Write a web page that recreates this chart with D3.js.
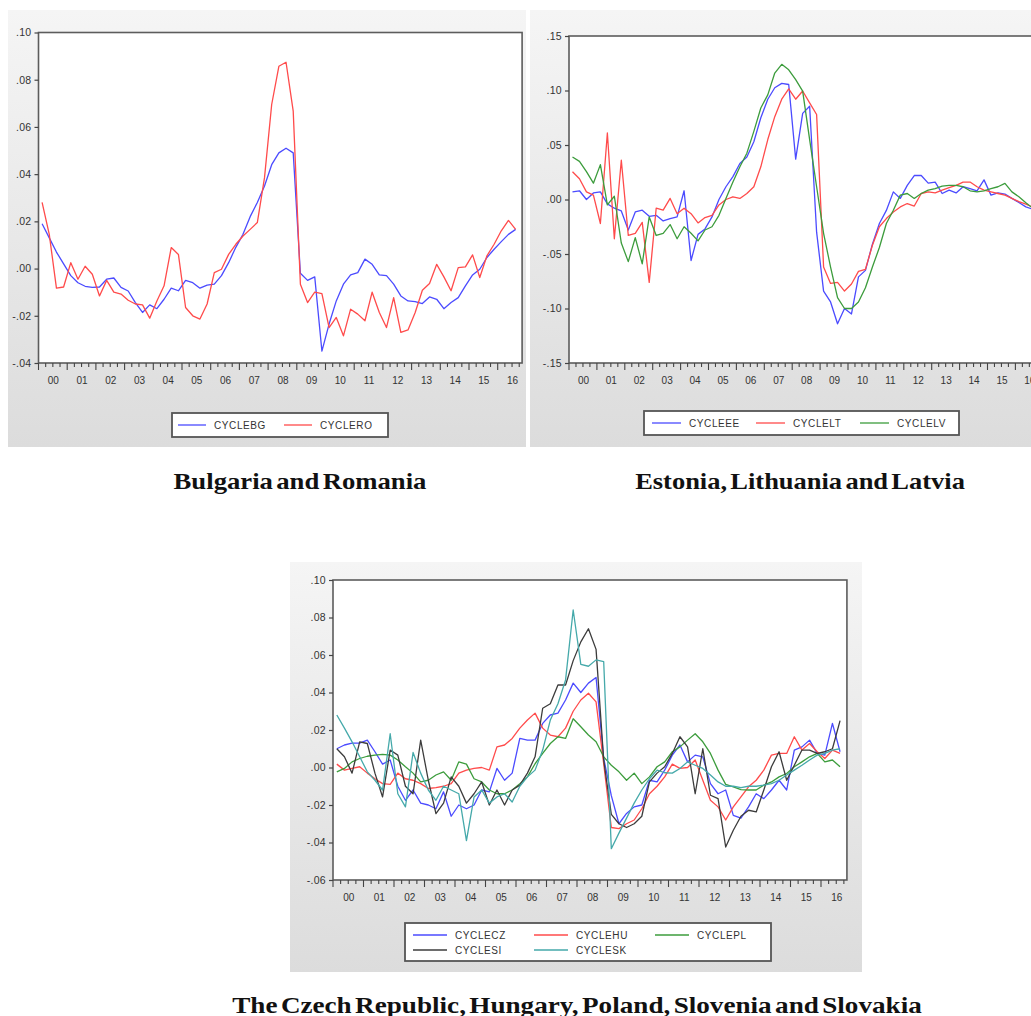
<!DOCTYPE html>
<html>
<head>
<meta charset="utf-8">
<script src="https://cdn.jsdelivr.net/npm/d3@7"></script>
<style>
  html, body { margin: 0; padding: 0; background: #ffffff; }
  svg { display: block; }
  .tick-label { font-family: "Liberation Sans", Arial, sans-serif; font-size: 10px; fill: #333; }
  .ytick-label { font-family: "Liberation Sans", Arial, sans-serif; font-size: 10.5px; fill: #333; letter-spacing: 0.3px; }
  .legend-label { font-family: "Liberation Sans", Arial, sans-serif; font-size: 10px; fill: #333; letter-spacing: 0.6px; }
  .title { font-family: "Liberation Serif", "Times New Roman", serif; font-weight: bold; font-size: 24px; fill: #111; word-spacing: -3px; }
</style>
</head>
<body>
<script>
// Year labels along the time axis (quarterly data, 2000Q1 - 2016Q3)
const yearLabels = ["00","01","02","03","04","05","06","07","08","09","10","11","12","13","14","15","16"];

// Bulgaria and Romania
const cycleBG = [
  0.019, 0.013, 0.007, 0.002,
  -0.003, -0.006, -0.0075, -0.008,
  -0.0078, -0.0045, -0.004, -0.008,
  -0.0095, -0.0144, -0.0186, -0.0154,
  -0.017, -0.013, -0.0083, -0.0094,
  -0.005, -0.006, -0.0083, -0.007,
  -0.0066, -0.003, 0.0025, 0.009,
  0.0145, 0.022, 0.028, 0.035,
  0.044, 0.049, 0.051, 0.049,
  -0.002, -0.005, -0.0035, -0.035,
  -0.0235, -0.0137, -0.0066, -0.0027,
  -0.0017, 0.004, 0.0018, -0.0027,
  -0.003, -0.0066, -0.0116, -0.0137,
  -0.014, -0.0148, -0.012, -0.013,
  -0.017, -0.0144, -0.0123, -0.0073,
  -0.0027, -0.0003, 0.0047, 0.0082,
  0.0114, 0.0145, 0.0166
];
const cycleRO = [
  0.028, 0.0145, -0.0083, -0.0078,
  0.0025, -0.0045, 0.001, -0.0024,
  -0.0116, -0.005, -0.010, -0.0108,
  -0.0134, -0.015, -0.0154, -0.021,
  -0.0137, -0.0073, 0.0089, 0.006,
  -0.0165, -0.020, -0.0214, -0.015,
  -0.0017, -0.0003, 0.006, 0.0103,
  0.0138, 0.0166, 0.0195, 0.0385,
  0.0695, 0.0857, 0.0874, 0.0667,
  -0.0066, -0.0144, -0.010, -0.0106,
  -0.025, -0.0207, -0.0285, -0.0172,
  -0.0193, -0.0221, -0.010, -0.0186,
  -0.025, -0.0123, -0.027, -0.026,
  -0.0186, -0.0092, -0.0063, 0.0018,
  -0.0035, -0.0094, 0.0004, 0.0007,
  0.0058, -0.0038, 0.0054, 0.0103,
  0.016, 0.0204, 0.0166
];

// Estonia, Lithuania and Latvia
const cycleEE = [
  0.007, 0.008, 0.000, 0.006,
  0.007, -0.004, -0.008, -0.0105,
  -0.028, -0.0114, -0.0098, -0.0154,
  -0.0145, -0.0197, -0.0175, -0.016,
  0.008, -0.056, -0.032, -0.027,
  -0.016, 0.000, 0.0117, 0.021,
  0.033, 0.039, 0.053, 0.075,
  0.092, 0.1025, 0.1065, 0.1055,
  0.037, 0.079, 0.0855, -0.030,
  -0.084, -0.094, -0.114, -0.100,
  -0.105, -0.071, -0.065, -0.041,
  -0.022, -0.010, 0.007, 0.001,
  0.013, 0.022, 0.022, 0.015,
  0.016, 0.0055, 0.0086, 0.006,
  0.0117, 0.010, 0.008, 0.018,
  0.004, 0.006, 0.005, 0.001,
  -0.0028, -0.0068, -0.009
];
const cycleLT = [
  0.0255, 0.019, 0.007, 0.004,
  -0.022, 0.061, -0.036, 0.036,
  -0.033, -0.031, -0.021, -0.076,
  -0.008, -0.0098, 0.001, -0.013,
  -0.008, -0.013, -0.0215, -0.0166,
  -0.0145, -0.005, 0.000, 0.0025,
  0.001, 0.0055, 0.0117, 0.030,
  0.055, 0.076, 0.092, 0.1015,
  0.092, 0.0995, 0.0886, 0.078,
  -0.062, -0.077, -0.076, -0.084,
  -0.0775, -0.066, -0.064, -0.042,
  -0.025, -0.0175, -0.0114, -0.0068,
  -0.0037, -0.006, 0.0055, 0.007,
  0.006, 0.0086, 0.0108, 0.013,
  0.016, 0.016, 0.0117, 0.0086,
  0.007, 0.0055, 0.004, 0.001,
  -0.002, -0.0043, -0.007
];
const cycleLV = [
  0.039, 0.035, 0.0255, 0.015,
  0.032, -0.005, 0.003, -0.040,
  -0.057, -0.035, -0.059, -0.016,
  -0.033, -0.031, -0.023, -0.036,
  -0.025, -0.031, -0.038, -0.028,
  -0.025, -0.0145, 0.001, 0.016,
  0.030, 0.0425, 0.0625, 0.084,
  0.096, 0.116, 0.124, 0.119,
  0.110, 0.0995, 0.055, 0.0117,
  -0.031, -0.062, -0.090, -0.100,
  -0.100, -0.094, -0.081, -0.062,
  -0.044, -0.022, -0.0098, 0.004,
  0.0055, 0.001, 0.0055, 0.0086,
  0.010, 0.0123, 0.013, 0.013,
  0.0117, 0.008, 0.007, 0.008,
  0.010, 0.0117, 0.0148, 0.007,
  0.0025, -0.003, -0.008
];

// The Czech Republic, Hungary, Poland, Slovenia and Slovakia
const cycleCZ = [
  0.010, 0.012, 0.013, 0.013,
  0.0146, 0.0084, 0.0018, 0.004,
  -0.010, -0.0175, -0.012, -0.019,
  -0.020, -0.022, -0.013, -0.026,
  -0.020, -0.022, -0.020, -0.012,
  -0.013, -0.0005, -0.0068, -0.003,
  0.0155, 0.0146, 0.0146, 0.0235,
  0.028, 0.029, 0.036, 0.045,
  0.040, 0.045, 0.048, 0.005,
  -0.015, -0.030, -0.0245, -0.021,
  -0.020, -0.0068, -0.0077, -0.0014,
  0.0066, 0.012, 0.003, 0.0066,
  0.0057, -0.0086, -0.014, -0.012,
  -0.0255, -0.027, -0.021, -0.014,
  -0.0166, -0.012, -0.0068, -0.012,
  0.0093, 0.011, 0.0146, 0.0075,
  0.0066, 0.0235, 0.0084
];
const cycleHU = [
  0.0018, -0.0014, -0.0005, 0.0004,
  -0.003, -0.006, -0.0086, -0.009,
  -0.003, -0.006, -0.0068, -0.0086,
  -0.0112, -0.0107, -0.010, -0.0086,
  -0.003, -0.0014, -0.0005, 0.000,
  -0.0014, 0.011, 0.012, 0.0155,
  0.021, 0.0253, 0.029, 0.021,
  0.0173, 0.0164, 0.021, 0.030,
  0.036, 0.0396, 0.035, 0.002,
  -0.032, -0.0326, -0.030, -0.028,
  -0.022, -0.014, -0.010, -0.005,
  0.0018, -0.0005, 0.000, 0.004,
  -0.0068, -0.0175, -0.021, -0.028,
  -0.021, -0.0157, -0.0103, -0.0068,
  -0.0014, 0.0066, 0.0075, 0.0075,
  0.0164, 0.0093, 0.0128, 0.0084,
  0.0048, 0.0093, 0.0075
];
const cyclePL = [
  -0.0023, -0.0005, 0.003, 0.0048,
  0.006, 0.0066, 0.007, 0.0066,
  0.004, 0.0004, -0.003, -0.0077,
  -0.0068, -0.004, -0.0023, -0.0068,
  0.003, 0.0018, -0.006, -0.0077,
  -0.012, -0.014, -0.014, -0.012,
  -0.0086, -0.005, 0.002, 0.0075,
  0.0128, 0.0164, 0.0155, 0.026,
  0.0217, 0.0173, 0.0137, 0.0057,
  0.0012, -0.0023, -0.0068, -0.003,
  -0.0086, -0.005, 0.0004, 0.003,
  0.0084, 0.011, 0.0146, 0.018,
  0.0137, 0.0075, -0.0014, -0.009,
  -0.0103, -0.0118, -0.012, -0.012,
  -0.0094, -0.0077, -0.005, -0.0032,
  0.0004, 0.003, 0.0057, 0.0075,
  0.003, 0.004, 0.0004
];
const cycleSI = [
  0.010, 0.0057, -0.003, 0.0137,
  0.0128, -0.003, -0.0157, 0.0093,
  0.0066, -0.010, -0.014, 0.0146,
  -0.0068, -0.0246, -0.019, -0.005,
  -0.010, -0.019, -0.014, -0.0077,
  -0.020, -0.012, -0.020, -0.012,
  -0.0094, -0.003, 0.0057, 0.0316,
  0.034, 0.044, 0.044, 0.057,
  0.067, 0.074, 0.063, 0.004,
  -0.025, -0.030, -0.032, -0.030,
  -0.026, -0.0077, -0.003, 0.0004,
  0.0075, 0.0164, 0.011, -0.014,
  0.010, -0.0148, -0.0166, -0.0424,
  -0.0335, -0.026, -0.0228, -0.0237,
  -0.012, 0.0004, 0.0084, -0.0068,
  0.0012, 0.0093, 0.0093, 0.0075,
  0.0084, 0.010, 0.025
];
const cycleSK = [
  0.028, 0.021, 0.0137, 0.0057,
  -0.0023, -0.0068, -0.012, 0.018,
  -0.014, -0.021, 0.008, -0.003,
  -0.012, -0.0175, -0.010, -0.012,
  -0.014, -0.039, -0.0157, -0.012,
  -0.019, -0.0157, -0.014, -0.0184,
  -0.010, -0.005, -0.0014, 0.0093,
  0.0253, 0.034, 0.0467, 0.084,
  0.055, 0.054, 0.0574, 0.0565,
  -0.0433, -0.035, -0.027, -0.019,
  -0.012, -0.006, -0.0014, -0.0028,
  -0.003, -0.0005, 0.003, 0.0012,
  -0.0005, -0.004, -0.0077, -0.010,
  -0.010, -0.0107, -0.010, -0.010,
  -0.0094, -0.0086, -0.0068, -0.004,
  -0.0014, 0.0012, 0.004, 0.0066,
  0.0075, 0.0093, 0.010
];

// Y-axis tick values for each panel
const ticksBalkan = [0.10, 0.08, 0.06, 0.04, 0.02, 0.00, -0.02, -0.04];
const ticksBaltic = [0.15, 0.10, 0.05, 0.00, -0.05, -0.10, -0.15];
const ticksCentral = [0.10, 0.08, 0.06, 0.04, 0.02, 0.00, -0.02, -0.04, -0.06];

const COLORS = {
  blue: "#4b4bff",
  red: "#ff4b4b",
  green: "#3c9c3c",
  black: "#3c3c3c",
  teal: "#45a9aa"
};

const W = 1031, H = 1016;
const svg = d3.select("body").append("svg").attr("width", W).attr("height", H);

const defs = svg.append("defs");
const grad = defs.append("linearGradient").attr("id", "panelBg").attr("x1", 0).attr("y1", 0).attr("x2", 0).attr("y2", 1);
grad.append("stop").attr("offset", "0%").attr("stop-color", "#f5f5f5");
grad.append("stop").attr("offset", "100%").attr("stop-color", "#dcdcdc");

// Quarters span from the first data point out to a little past 2016Q3
const QUARTER_SPAN = 67.4;

// EViews-style numeric labels: ".10", "-.02"
function evFmt(v) {
  const s = d3.format(".2f")(Math.abs(v)).replace(/^0/, "");
  return (v < 0 ? "-" : "") + s;
}

function drawPanel(cfg) {
  const g = svg.append("g");
  const clipId = "clip-" + cfg.id;
  defs.append("clipPath").attr("id", clipId)
    .append("rect").attr("x", cfg.bg[0]).attr("y", cfg.bg[1]).attr("width", cfg.bg[2]).attr("height", cfg.bg[3]);
  const pg = g.attr("clip-path", `url(#${clipId})`);

  pg.append("rect")
    .attr("x", cfg.bg[0]).attr("y", cfg.bg[1]).attr("width", cfg.bg[2]).attr("height", cfg.bg[3])
    .attr("fill", "url(#panelBg)");

  const x = d3.scaleLinear().domain([0, QUARTER_SPAN]).range([cfg.left, cfg.left + cfg.yearW * QUARTER_SPAN / 4]);
  const y = d3.scaleLinear().domain(cfg.yDomain).range([cfg.bottom, cfg.top]);
  const right = x(QUARTER_SPAN);

  // plot area
  pg.append("rect")
    .attr("x", cfg.left).attr("y", cfg.top)
    .attr("width", right - cfg.left).attr("height", cfg.bottom - cfg.top)
    .attr("fill", "#ffffff");

  // series
  const line = d3.line().x((d, i) => x(i + 0.5)).y(d => y(d));
  cfg.series.forEach(s => {
    pg.append("path")
      .datum(s.values)
      .attr("d", line)
      .attr("fill", "none")
      .attr("stroke", s.color)
      .attr("stroke-width", 1.3)
      .attr("stroke-linejoin", "round");
  });

  // frame
  pg.append("rect")
    .attr("x", cfg.left).attr("y", cfg.top)
    .attr("width", right - cfg.left).attr("height", cfg.bottom - cfg.top)
    .attr("fill", "none").attr("stroke", "#5c5c5c").attr("stroke-width", 1.6);

  // y axis
  const yAxis = d3.axisLeft(y).tickValues(cfg.yTicks).tickSize(4).tickPadding(3).tickFormat(evFmt);
  const ya = pg.append("g").attr("transform", `translate(${cfg.left},0)`).call(yAxis);
  ya.select(".domain").remove();
  ya.selectAll(".tick line").attr("stroke", "#444").attr("stroke-width", 1.2);
  ya.selectAll(".tick text").attr("class", "ytick-label").attr("fill", null);

  // x axis: quarter ticks, taller ticks at year boundaries, labels centred on each year
  const qTicks = d3.range(0, 68);
  pg.append("g").selectAll("line").data(qTicks).join("line")
    .attr("x1", d => x(d)).attr("x2", d => x(d))
    .attr("y1", cfg.bottom).attr("y2", d => cfg.bottom + (d % 4 === 0 ? 7 : 4))
    .attr("stroke", "#444").attr("stroke-width", 1.1);
  const xAxis = d3.axisBottom(x)
    .tickValues(yearLabels.map((d, i) => i * 4 + 2))
    .tickSize(0).tickPadding(14)
    .tickFormat((d, i) => yearLabels[i]);
  const xa = pg.append("g").attr("transform", `translate(0,${cfg.bottom})`).call(xAxis);
  xa.select(".domain").remove();
  xa.selectAll(".tick text").attr("class", "tick-label").attr("fill", null);

  // legend
  const L = cfg.legend;
  pg.append("rect")
    .attr("x", L.x).attr("y", L.y).attr("width", L.w).attr("height", L.h)
    .attr("fill", "#ffffff").attr("stroke", "#555").attr("stroke-width", 1.8);
  cfg.series.forEach((s, i) => {
    const col = i % L.cols, row = Math.floor(i / L.cols);
    const lx = L.x + L.padX + col * L.colW;
    const ly = L.y + L.rowY0 + row * L.rowH;
    pg.append("line")
      .attr("x1", lx).attr("x2", lx + L.lineW)
      .attr("y1", ly).attr("y2", ly)
      .attr("stroke", s.color).attr("stroke-width", 1.3);
    pg.append("text")
      .attr("class", "legend-label")
      .attr("x", lx + L.lineW + 8).attr("y", ly + 3.5)
      .text(s.name);
  });

  // caption below the panel, fitted horizontally to its set width
  const t = svg.append("text")
    .attr("class", "title")
    .attr("x", 0).attr("y", 0)
    .attr("text-anchor", "middle")
    .text(cfg.title.text);
  const natural = t.node().getComputedTextLength();
  const sx = cfg.title.len / natural;
  t.attr("transform", `translate(${cfg.title.x},${cfg.title.y}) scale(${sx},1)`);
}

drawPanel({
  id: "balkan",
  bg: [8, 10, 518, 437],
  left: 38.5, top: 32.5, bottom: 363, yearW: 28.7,
  yDomain: [-0.04, 0.10], yTicks: ticksBalkan,
  series: [
    { name: "CYCLEBG", values: cycleBG, color: COLORS.blue },
    { name: "CYCLERO", values: cycleRO, color: COLORS.red }
  ],
  legend: { x: 172, y: 413, w: 216, h: 24, cols: 2, colW: 106, padX: 6, rowY0: 12, rowH: 0, lineW: 28 },
  title: { text: "Bulgaria and Romania", x: 300, y: 489, len: 253 }
});

drawPanel({
  id: "baltic",
  bg: [530, 10, 510, 437],
  left: 569, top: 36, bottom: 363, yearW: 27.9,
  yDomain: [-0.15, 0.15], yTicks: ticksBaltic,
  series: [
    { name: "CYCLEEE", values: cycleEE, color: COLORS.blue },
    { name: "CYCLELT", values: cycleLT, color: COLORS.red },
    { name: "CYCLELV", values: cycleLV, color: COLORS.green }
  ],
  legend: { x: 644, y: 411, w: 315, h: 24, cols: 3, colW: 104, padX: 8, rowY0: 12, rowH: 0, lineW: 29 },
  title: { text: "Estonia, Lithuania and Latvia", x: 800, y: 489, len: 330 }
});

drawPanel({
  id: "central",
  bg: [290, 562, 572, 410],
  left: 333, top: 580, bottom: 880, yearW: 30.5,
  yDomain: [-0.06, 0.10], yTicks: ticksCentral,
  series: [
    { name: "CYCLECZ", values: cycleCZ, color: COLORS.blue },
    { name: "CYCLEHU", values: cycleHU, color: COLORS.red },
    { name: "CYCLEPL", values: cyclePL, color: COLORS.green },
    { name: "CYCLESI", values: cycleSI, color: COLORS.black },
    { name: "CYCLESK", values: cycleSK, color: COLORS.teal }
  ],
  legend: { x: 405, y: 923, w: 366, h: 38, cols: 3, colW: 121, padX: 8, rowY0: 12, rowH: 15, lineW: 34 },
  title: { text: "The Czech Republic, Hungary, Poland, Slovenia and Slovakia", x: 577, y: 1013, len: 690 }
});
</script>
</body>
</html>
